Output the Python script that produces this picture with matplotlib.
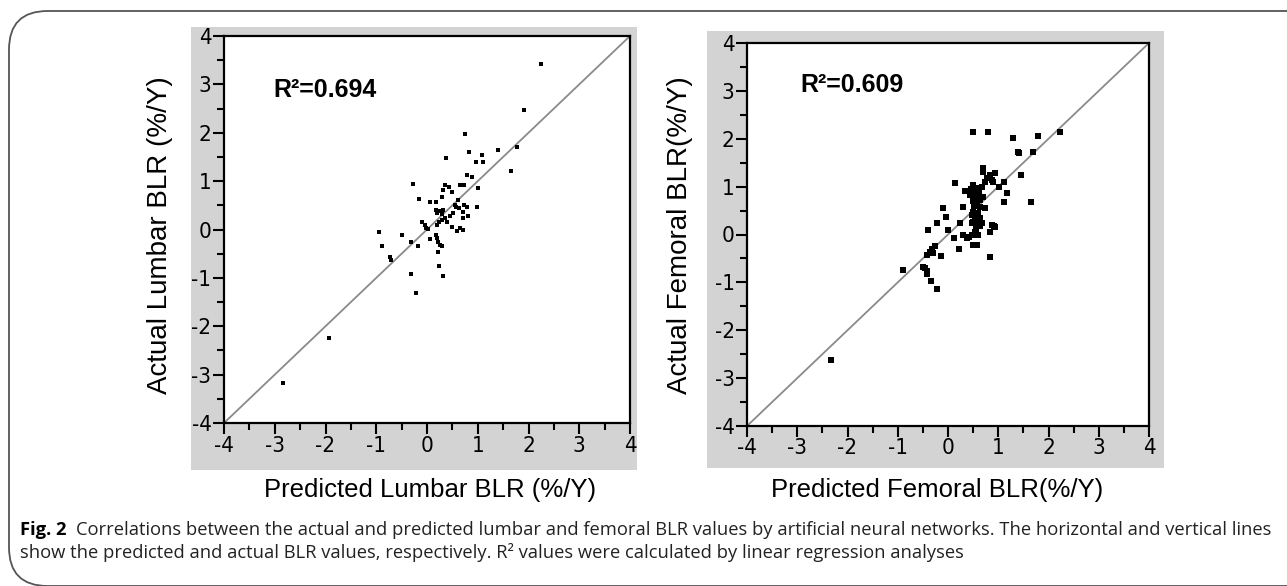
import matplotlib.pyplot as plt
from matplotlib.patches import Rectangle, FancyBboxPatch

# lumbar: predicted vs actual BLR (%/Y)
lumbar_pred = [2.25, 1.91, 0.75, 1.39, 1.77, 0.83, 0.37, 1.08, 0.97, 1.10, 1.65, 0.78, 0.88,
               -0.27, 0.35, 0.44, 0.32, 0.49, 0.66, 0.73, 1.00, 0.29, -0.15, 0.06, 0.18, 0.62,
               0.55, 0.58, 0.72, 0.64, 0.78, 0.98, 0.17, 0.26, 0.32, 0.19, 0.29, 0.52, 0.70,
               0.81, 0.45, 0.35, 0.29, 0.24, 0.39, 0.70, -0.09, -0.04, 0.02, -0.01, 0.49, 0.65,
               0.70, 0.59, 0.19, -0.95, -0.49, -0.32, -0.17, 0.06, 0.18, 0.20, 0.22, 0.26, 0.29,
               -0.89, 0.22, -0.73, -0.70, 0.23, -0.32, 0.32, -0.22, -1.94, -2.83]
lumbar_act = [3.43, 2.46, 1.97, 1.65, 1.71, 1.61, 1.48, 1.53, 1.40, 1.39, 1.21, 1.13, 1.09,
              0.95, 0.91, 0.87, 0.82, 0.77, 0.91, 0.91, 0.85, 0.68, 0.63, 0.56, 0.56, 0.61,
              0.51, 0.47, 0.51, 0.44, 0.47, 0.46, 0.40, 0.39, 0.40, 0.34, 0.32, 0.34, 0.37,
              0.28, 0.27, 0.23, 0.20, 0.16, 0.16, 0.23, 0.16, 0.10, 0.01, 0.03, 0.06, 0.03,
              -0.01, -0.03, 0.10, -0.06, -0.12, -0.25, -0.34, -0.20, -0.11, -0.18, -0.25, -0.32, -0.34,
              -0.34, -0.47, -0.56, -0.63, -0.75, -0.92, -0.97, -1.32, -2.25, -3.18]

# femoral: predicted vs actual BLR (%/Y)
femoral_pred = [0.49, 0.80, 1.30, 1.80, 2.22, 1.39, 1.42, 1.70, 1.45, 1.65, 1.11, 1.18, 1.11,
                1.02, 0.14, 0.70, 0.70, 0.84, 0.94, 0.77, 0.87, 0.74, 0.90, 0.50, 0.57, 0.67,
                0.34, 0.44, 0.54, 0.60, 0.70, 0.49, 0.50, 0.30, 0.57, 0.64, 0.64, -0.09, 0.50,
                0.60, 0.54, 0.64, 0.74, 0.47, 0.57, 0.49, 0.60, -0.03, -0.22, 0.24, 0.47, 0.57,
                0.67, 0.87, 0.94, 0.84, 0.91, -0.39, 0.00, 0.54, 0.47, 0.64, 0.30, 0.37, 0.11,
                0.42, 0.50, 0.57, -0.26, -0.36, -0.29, -0.42, -0.32, 0.21, -0.13, 0.84, -0.49,
                -0.89, -0.46, -0.42, -0.42, -0.34, -0.22, -2.33, 0.52, 0.62, 0.45, 0.55, 0.60]
femoral_act = [2.15, 2.15, 2.01, 2.06, 2.15, 1.73, 1.70, 1.73, 1.24, 0.67, 0.67, 0.86, 1.10,
               1.00, 1.07, 1.38, 1.31, 1.24, 1.28, 1.17, 1.14, 1.10, 1.10, 1.04, 0.97, 1.00,
               0.90, 0.83, 0.86, 0.79, 0.79, 0.79, 0.69, 0.58, 0.65, 0.58, 0.72, 0.55, 0.48,
               0.44, 0.38, 0.34, 0.55, 0.41, 0.30, 0.27, 0.24, 0.37, 0.24, 0.24, 0.24, 0.20,
               0.24, 0.20, 0.16, 0.06, 0.18, 0.10, 0.10, 0.06, -0.01, 0.17, -0.01, -0.08, -0.08,
               -0.06, -0.22, -0.22, -0.25, -0.36, -0.39, -0.43, -0.31, -0.31, -0.45, -0.47, -0.67,
               -0.75, -0.70, -0.77, -0.82, -0.97, -1.14, -2.62, 0.60, 0.90, 0.95, 0.12, 0.00]

ticks = [-4, -3, -2, -1, 0, 1, 2, 3, 4]
tick_labels = ['-4', '-3', '-2', '-1', '0', '1', '2', '3', '4']

W, H = 1287, 586
fig = plt.figure(figsize=(W / 100, H / 100), dpi=100)
fig.patch.set_facecolor('white')

sans = ['Liberation Sans', 'DejaVu Sans']


def px_rect(x0, y0, x1, y1):
    return [x0 / W, 1 - y1 / H, (x1 - x0) / W, (y1 - y0) / H]


# outer frame (left and top visible, rounded corners)
frame = FancyBboxPatch((9 / W, 0.0), 1.2, 1 - 11 / H,
                       boxstyle='round,pad=0,rounding_size=0.03',
                       transform=fig.transFigure, fill=False, edgecolor='#555555', linewidth=1.3,
                       mutation_aspect=W / H, zorder=-2)
fig.patches.append(frame)

# grey panel backgrounds
for x0, y0, x1, y1 in [(191, 27, 637, 470), (707, 31, 1164, 468)]:
    r = px_rect(x0, y0, x1, y1)
    fig.patches.append(Rectangle((r[0], r[1]), r[2], r[3], transform=fig.transFigure,
                                 facecolor='#d3d3d3', edgecolor='none', zorder=-1))

panels = [
    (px_rect(224, 36, 630, 423), lumbar_pred, lumbar_act, 8, 'R\u00b2=0.694', (0.121, 0.86),
     'Actual Lumbar BLR (%/Y)', 'Predicted Lumbar BLR (%/Y)', 160, 430),
    (px_rect(747, 43, 1149, 426), femoral_pred, femoral_act, 24, 'R\u00b2=0.609', (0.132, 0.89),
     'Actual Femoral BLR(%/Y)', 'Predicted Femoral BLR(%/Y)', 680, 937),
]

for rect, xs, ys, msize, r2, r2pos, ylab, xlab, ylab_x, xlab_x in panels:
    ax = fig.add_axes(rect)
    ax.set_zorder(1)
    ax.set_facecolor('white')
    ax.plot([-4, 4], [-4, 4], color='#8a8a8a', linewidth=1.3, zorder=1)
    ax.scatter(xs, ys, marker='s', s=msize, color='black', linewidths=0, zorder=2)
    ax.set_xlim(-4, 4)
    ax.set_ylim(-4, 4)
    ax.set_xticks(ticks)
    ax.set_yticks(ticks)
    ax.set_xticklabels(tick_labels, family='DejaVu Sans', fontstretch='condensed', fontsize=16)
    ax.set_yticklabels(tick_labels, family='DejaVu Sans', fontstretch='condensed', fontsize=16)
    ax.set_xticks([t + 0.5 for t in ticks[:-1]], minor=True)
    ax.set_yticks([t + 0.5 for t in ticks[:-1]], minor=True)
    ax.tick_params(which='major', direction='out', length=8, width=1.5, color='black', pad=1)
    ax.tick_params(which='minor', direction='out', length=5, width=1.5, color='black')
    for sp in ax.spines.values():
        sp.set_linewidth(1.6)
    ax.text(r2pos[0], r2pos[1], r2, transform=ax.transAxes, fontsize=18, fontweight='bold',
            family=sans, va='center', ha='left')
    fig.text(ylab_x / W, 1 - 235 / H, ylab, rotation=90, ha='center', va='center',
             fontsize=20, family=sans)
    fig.text(xlab_x / W, 1 - 490 / H, xlab, ha='center', va='center', fontsize=18.5, family=sans)

# caption
renderer = fig.canvas.get_renderer()
cap_font = ['Open Sans', 'Noto Sans', 'DejaVu Sans']
t = fig.text(20 / W, 1 - 530 / H, 'Fig. 2', fontsize=13.2, fontweight='bold', family=cap_font,
             va='center', ha='left')
bb = t.get_window_extent(renderer)
fig.text((bb.x1 + 9) / W, 1 - 530 / H,
         'Correlations between the actual and predicted lumbar and femoral BLR values by artificial '
         'neural networks. The horizontal and vertical lines',
         fontsize=13.2, family=cap_font, va='center', ha='left', color='#222222')
fig.text(20 / W, 1 - 553 / H,
         'show the predicted and actual BLR values, respectively. R\u00b2 values were calculated by '
         'linear regression analyses',
         fontsize=13.2, family=cap_font, va='center', ha='left', color='#222222')

fig.savefig('out.png', dpi=100)
